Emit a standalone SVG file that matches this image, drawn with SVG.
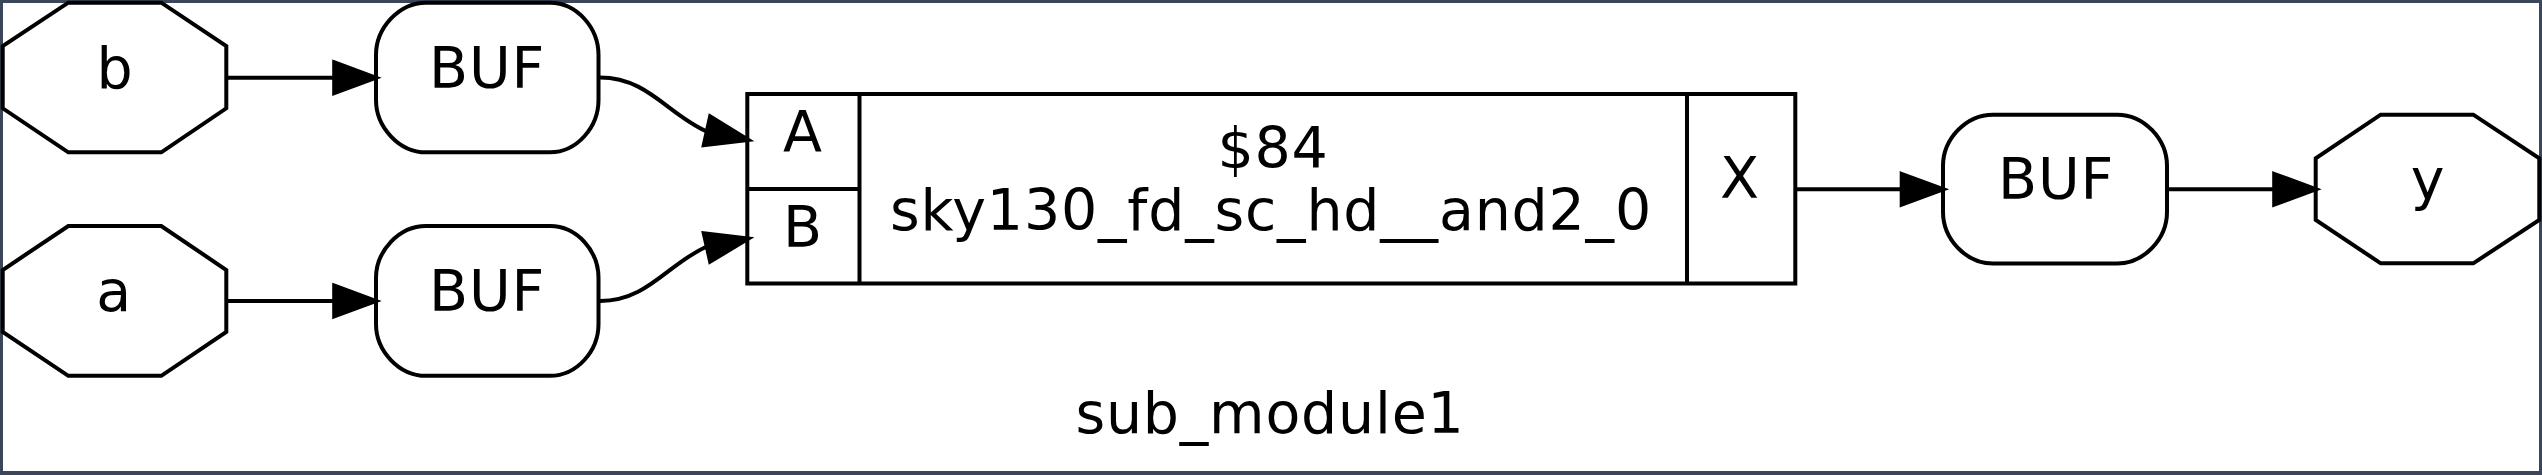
<svg xmlns="http://www.w3.org/2000/svg" width="2542" height="475" viewBox="0 0 2542 475">
<style>
.s{fill:#fff;stroke:#000;stroke-width:4}
.l{fill:none;stroke:#000;stroke-width:4}
.h{fill:#000;stroke:#000;stroke-width:3.6}
text{font-family:"DejaVu Sans",sans-serif;font-size:57px;letter-spacing:0.8px;fill:#000;text-anchor:middle}
</style>
<rect x="0" y="0" width="2542" height="475" fill="#3c465a"/>
<rect x="3" y="3" width="2536" height="468" fill="#fff"/>
<g id="b"><polygon class="s" points="68.3,2.7 161.3,2.7 226.3,46 226.3,108.3 161.3,152.3 68.3,152.3 2.7,108.3 2.7,46"/><text x="115" y="88">b</text></g>
<g id="a"><polygon class="s" points="68.3,226 161.3,226 226.3,270 226.3,332 161.3,375.8 68.3,375.8 2.7,332 2.7,270"/><text x="114" y="311">a</text></g>
<g id="buf1"><path class="s" d="M426,2.7H550C577,2.7 598.5,28 598.5,55V100C598.5,127 577,152.3 550,152.3H426C399,152.3 376,127 376,100V55C376,28 399,2.7 426,2.7Z"/><text x="487" y="88">BUF</text></g>
<g id="buf2"><path class="s" d="M426,226H550C577,226 598.5,251 598.5,278V324C598.5,351 577,375.8 550,375.8H426C399,375.8 376,351 376,324V278C376,251 399,226 426,226Z"/><text x="487" y="311">BUF</text></g>
<g id="cell"><rect class="s" x="747.3" y="94" width="1048" height="189.5"/><path class="l" d="M859.5,94V283.5M1687,94V283.5M747.3,189H859.5"/>
<text x="803" y="151.7">A</text><text x="803" y="246.5">B</text><text x="1273" y="167.5">$84</text><text x="1271" y="230">sky130_fd_sc_hd__and2_0</text><text x="1740" y="198">X</text></g>
<g id="buf3"><path class="s" d="M1993,114.7H2117C2144,114.7 2167,139 2167,166V212C2167,239 2144,263.5 2117,263.5H1993C1966,263.5 1943,239 1943,212V166C1943,139 1966,114.7 1993,114.7Z"/><text x="2056" y="198.5">BUF</text></g>
<g id="y"><polygon class="s" points="2380.7,114.7 2473.3,114.7 2539.3,158.3 2539.3,220 2473.3,263.3 2380.7,263.3 2315.7,220 2315.7,158.3"/><text x="2428" y="198.5">y</text></g>
<text x="1270" y="432.7">sub_module1</text>
<g id="connectors">
<path class="l" d="M226,77.7H334"/><polygon class="h" points="334,62 376.5,77.7 334,93.5"/>
<path class="l" d="M226,301H334"/><polygon class="h" points="334,285.3 376.5,301 334,316.7"/>
<path class="l" d="M600,77.5C648,77.5 668,115 708,132"/><polygon class="h" points="710,116 749,140 703.5,145.5"/>
<path class="l" d="M600,301C648,301 668,263 708,246"/><polygon class="h" points="703.5,233 749,238.5 710,262"/>
<path class="l" d="M1795,189.3H1901"/><polygon class="h" points="1901.5,173.6 1944,189.3 1901.5,205"/>
<path class="l" d="M2167,189.3H2273"/><polygon class="h" points="2274,173.6 2316.5,189.3 2274,205"/>
</g>
</svg>
